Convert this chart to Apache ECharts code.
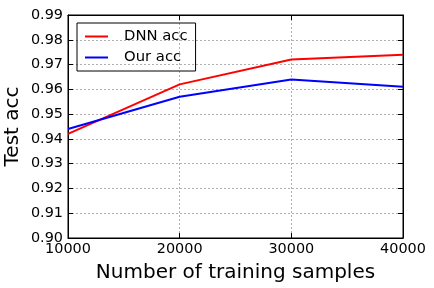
<!DOCTYPE html>
<html><head><meta charset="utf-8">
<script src="https://cdn.jsdelivr.net/npm/echarts@6/dist/echarts.min.js"></script>
<style>html,body{margin:0;padding:0;background:#fff}#c{width:434px;height:288px}</style>
</head><body><div id="c"></div>
<script>
var samples = [10000, 20000, 30000, 40000];
var dnnAcc = [0.942, 0.962, 0.972, 0.974];
var ourAcc = [0.944, 0.957, 0.964, 0.961];
var seriesNames = ['DNN acc', 'Our acc'];
var xTitle = 'Number of training samples';
var yTitle = 'Test acc';

var font = 'DejaVu Sans';
var chart = echarts.init(document.getElementById('c'), null, {renderer: 'canvas'});
function pairs(xs, ys) { return xs.map(function (x, i) { return [x, ys[i]]; }); }
var tick = {show: true, inside: true, length: 5, lineStyle: {color: '#000', width: 1}};
chart.setOption({
  animation: false,
  backgroundColor: '#fff',
  grid: {left: 68, right: 31, top: 15, bottom: 50, containLabel: false, outerBoundsMode: 'none',
    show: true, borderColor: '#000', borderWidth: 1, backgroundColor: 'transparent'},
  legend: {
    left: 77, top: 23, orient: 'vertical',
    borderColor: '#000', borderWidth: 1, borderRadius: 0,
    padding: [6, 8, 6, 8], itemGap: 6, itemWidth: 23, itemHeight: 2,
    icon: 'rect',
    textStyle: {fontFamily: font, fontSize: 14.8, color: '#000', padding: [0, 0, 0, 11]},
    data: seriesNames
  },
  xAxis: [{
    type: 'value', min: 10000, max: 40000, interval: 10000,
    name: xTitle, nameLocation: 'middle', nameGap: 25, nameMoveOverlap: false,
    nameTextStyle: {fontFamily: font, fontSize: 20, color: '#000'},
    axisLine: {show: true, lineStyle: {color: '#000', width: 1}},
    axisTick: tick,
    axisLabel: {fontFamily: font, fontSize: 14.4, color: '#000', margin: 4,
      formatter: function (v) { return String(v); }},
    splitLine: {show: true, lineStyle: {color: '#b0b0b0', type: [2, 2], width: 1}}
  }, {
    type: 'value', position: 'top', min: 10000, max: 40000, interval: 10000,
    axisLine: {show: true, lineStyle: {color: '#000'}}, axisTick: tick,
    axisLabel: {show: false}, splitLine: {show: false}
  }],
  yAxis: [{
    type: 'value', min: 0.90, max: 0.99, interval: 0.01,
    name: yTitle, nameLocation: 'middle', nameGap: 45, nameRotate: 90, nameMoveOverlap: false,
    nameTextStyle: {fontFamily: font, fontSize: 20, color: '#000'},
    axisLine: {show: true, lineStyle: {color: '#000', width: 1}},
    axisTick: tick,
    axisLabel: {fontFamily: font, fontSize: 14.4, color: '#000', margin: 5,
      formatter: function (v) { return v.toFixed(2); }},
    splitLine: {show: true, lineStyle: {color: '#b0b0b0', type: [2, 2], width: 1}}
  }, {
    type: 'value', position: 'right', min: 0.90, max: 0.99, interval: 0.01,
    axisLine: {show: true, lineStyle: {color: '#000'}}, axisTick: tick,
    axisLabel: {show: false}, splitLine: {show: false}
  }],
  series: [{
    name: seriesNames[0], type: 'line', symbol: 'none', data: pairs(samples, dnnAcc),
    lineStyle: {color: '#ff0000', width: 2}, itemStyle: {color: '#ff0000'}
  }, {
    name: seriesNames[1], type: 'line', symbol: 'none', data: pairs(samples, ourAcc),
    lineStyle: {color: '#0000ff', width: 2}, itemStyle: {color: '#0000ff'}
  }]
});
</script></body></html>
